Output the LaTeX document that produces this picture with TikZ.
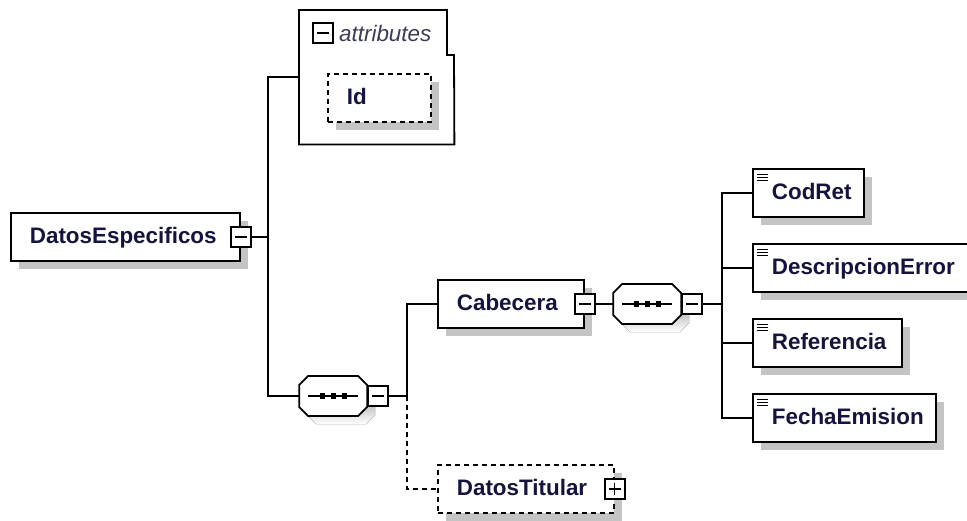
\documentclass[tikz,border=0pt]{standalone}
\usepackage{fontspec}
\setmainfont{Liberation Sans}
\usetikzlibrary{shadows}
\definecolor{txt}{HTML}{14143C}
\definecolor{attr}{HTML}{3C3C55}
\definecolor{shade}{HTML}{C4C4C4}
\begin{document}
\begin{tikzpicture}[x=1pt,y=-1pt,
  conn/.style={line width=1.8pt},
  box shadow/.style={drop shadow={fill=shade,opacity=1,shadow xshift=8pt,shadow yshift=-8pt}},
  elem/.style={draw,line width=1.8pt,fill=white,anchor=west,minimum height=48pt,inner sep=0pt,
    text width=#1,align=left,text=txt,font=\bfseries\fontsize{22.4}{26}\selectfont,
    text height=16pt,text depth=4pt,execute at begin node={\hspace*{19pt}},box shadow},
  leaf/.style={elem=#1,path picture={
    \foreach \k in {5,8,11}
      \draw[line width=1pt] ([xshift=4pt,yshift=-\k pt]path picture bounding box.north west) -- ++(11,0);}},
  optional/.style={dash pattern=on 5pt off 4pt},
  minus/.style={draw,line width=1.6pt,fill=white,minimum size=20pt,inner sep=0pt,path picture={
    \draw[line width=1.3pt] ([xshift=-6pt]path picture bounding box.center) -- ([xshift=6pt]path picture bounding box.center);}},
  plus/.style={minus,path picture={
    \draw[line width=1.3pt] ([xshift=-6pt]path picture bounding box.center) -- ([xshift=6pt]path picture bounding box.center);
    \draw[line width=1.3pt] ([yshift=-6pt]path picture bounding box.center) -- ([yshift=6pt]path picture bounding box.center);}},
  seq/.style={anchor=west,minimum width=68pt,minimum height=40pt,inner sep=0pt},
  octagon/.style={insert path={(-34,-11) -- (-25,-20) -- (25,-20) -- (34,-11) -- (34,11) -- (25,20) -- (-25,20) -- (-34,11) -- cycle}}]
\useasboundingbox (0,0) rectangle (967,520);
\node[elem=229] (v1) at (10,237) {DatosEspecificos};
\node[minus] (m1) at (v1.east) {};
\node[minimum width=155pt,minimum height=134pt,inner sep=0pt,anchor=north west] (v2) at (299,10) {};
\draw[line width=1.8pt] (v2.south west) -- (v2.north west) -- ++(148,0) -- ++(0,45) -- ++(7,0) -- (v2.south east) -- cycle;
\node[minus] (m0) at (323,33) {};
\node[anchor=west,inner sep=0pt,text=attr,font=\itshape\fontsize{22.4}{26}\selectfont,text height=16pt,text depth=4pt] (t0) at (339,35) {attributes};
\node[elem=103,optional] (v3) at (327,98) {Id};
\node[seq] (s1) at (299,396) {};
\node[seq] (s2) at (613,304) {};
\foreach \s in {s1,s2} {
  \fill[shade,shift={(\s.center)},shift={(8,8)},octagon];
  \filldraw[fill=white,line width=1.8pt,shift={(\s.center)},octagon];
  \draw[line width=1.3pt,shift={(\s.center)}] (-25,0) -- (25,0);
  \foreach \d in {-11,0,11}
    \fill[shift={(\s.center)}] (\d-2.6,-2.6) rectangle (\d+2.6,2.6);
}
\node[minus,anchor=west] (m2) at (s1.east) {};
\node[elem=146] (v4) at (437,304) {Cabecera};
\node[minus] (m3) at (v4.east) {};
\node[elem=176,optional] (v5) at (437,489) {DatosTitular};
\node[plus] (m5) at (v5.east) {};
\node[minus,anchor=west] (m4) at (s2.east) {};
\node[leaf=111] (v6) at (752,193) {CodRet};
\node[leaf=216] (v7) at (752,268) {DescripcionError};
\node[leaf=149] (v8) at (752,343) {Referencia};
\node[leaf=183] (v9) at (752,418) {FechaEmision};
\coordinate (j1) at (268,237);
\coordinate (j2) at (407,396);
\coordinate (j3) at (722,304);
\draw[conn] (m1) -- (j1);
\draw[conn] (v2.west) -| (j1) |- (s1.west);
\draw[conn] (m2) -- (j2);
\draw[conn] (v4.west) -| (j2);
\draw[conn,optional] (j2) |- (v5.west);
\draw[conn] (m3) -- (s2);
\draw[conn] (m4) -- (j3);
\draw[conn] (v6.west) -| (j3) |- (v9.west);
\draw[conn] (v7.west) -| (j3);
\draw[conn] (v8.west) -| (j3);
\end{tikzpicture}
\end{document}
